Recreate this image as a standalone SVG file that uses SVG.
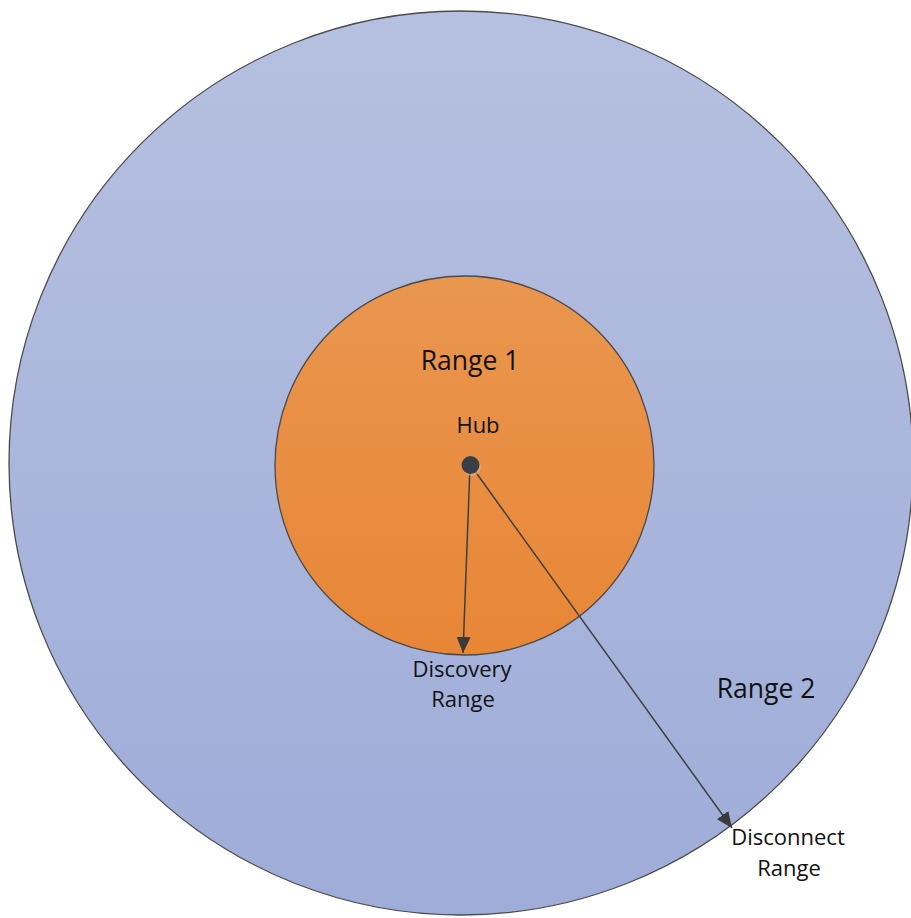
<svg xmlns="http://www.w3.org/2000/svg" width="911" height="918" viewBox="0 0 911 918">
<defs>
<linearGradient id="gBlue" x1="0" y1="0" x2="0" y2="1">
<stop offset="0" stop-color="#b6c0e0"/>
<stop offset="1" stop-color="#9eacd8"/>
</linearGradient>
<linearGradient id="gOrange" x1="0" y1="0" x2="0" y2="1">
<stop offset="0" stop-color="#e9964f"/>
<stop offset="1" stop-color="#e88636"/>
</linearGradient>
<marker id="arrow" markerWidth="16" markerHeight="14" refX="16" refY="7" orient="auto" markerUnits="userSpaceOnUse" viewBox="0 0 16 14">
<path d="M0,0 L16,7 L0,14 Z" fill="#3a3a3a"/>
</marker>
<style>
.ring{stroke:#4a4a4a;stroke-width:1.3}
.lbl{font-family:"Open Sans","Liberation Sans",sans-serif;fill:#111;text-anchor:middle}
.big{font-size:26.5px}
.small{font-size:22px}
.conn{stroke:#3f3f3f;stroke-width:1.5;fill:none}
</style>
</defs>
<rect width="911" height="918" fill="#ffffff"/>
<g id="range2">
<circle class="ring" cx="461" cy="463" r="452" fill="url(#gBlue)"/>
<text class="lbl big" x="766" y="698">Range 2</text>
</g>
<g id="range1">
<circle class="ring" cx="464.5" cy="465.5" r="189.5" fill="url(#gOrange)"/>
<text class="lbl big" x="470" y="370">Range 1</text>
</g>
<g id="connectors">
<line class="conn" x1="470" y1="466" x2="463" y2="653" marker-end="url(#arrow)"/>
<line class="conn" x1="472" y1="467" x2="732" y2="828" marker-end="url(#arrow)"/>
</g>
<g id="hub">
<circle cx="472" cy="467" r="9" fill="#e9b58a" opacity="0.6"/>
<circle cx="470.5" cy="465" r="9" fill="#3a3e48"/>
<text class="lbl small" x="478" y="433">Hub</text>
</g>
<g id="discovery">
<text class="lbl small" x="462" y="677">Discovery</text>
<text class="lbl small" x="463" y="707">Range</text>
</g>
<g id="disconnect">
<text class="lbl small" x="788" y="845">Disconnect</text>
<text class="lbl small" x="789" y="876">Range</text>
</g>
</svg>
